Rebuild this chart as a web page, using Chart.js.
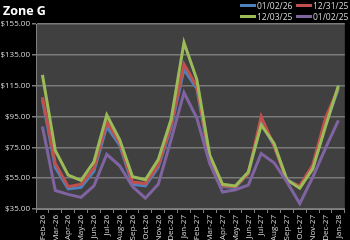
<!DOCTYPE html>
<html>
<head>
<meta charset="utf-8">
<script src="https://cdn.jsdelivr.net/npm/chart.js@4"></script>
<style>
    html, body { margin: 0; padding: 0; background: #000; }
    #wrap { position: relative; width: 350px; height: 240px; overflow: hidden; font-family: "Open Sans", "Liberation Sans", sans-serif; }
    #chart { position: absolute; left: 0; top: 0; }
    .title { position: absolute; left: 3px; top: 2px; color: #fff; font-weight: bold; font-size: 12.5px; }
    .lg { position: absolute; color: #d9d9d9; font-size: 8.5px; line-height: 10px; }
    .lg i { display: inline-block; width: 16px; height: 3px; vertical-align: middle; margin-right: 1px; position: relative; top: -1px; }
</style>
</head>
<body>
<div id="wrap">
    <canvas id="chart" width="350" height="240"></canvas>
    <div class="title">Zone G</div>
    <div class="lg" style="left:240px; top:1px;"><i style="background:#4f81bd"></i>01/02/26</div>
    <div class="lg" style="left:296px; top:1px;"><i style="background:#c0504d"></i>12/31/25</div>
    <div class="lg" style="left:240px; top:12px;"><i style="background:#9bbb59"></i>12/03/25</div>
    <div class="lg" style="left:296px; top:12px;"><i style="background:#8064a2"></i>01/02/25</div>
</div>
<script>
var months = ['Feb-26', 'Mar-26', 'Apr-26', 'May-26', 'Jun-26', 'Jul-26', 'Aug-26', 'Sep-26', 'Oct-26', 'Nov-26', 'Dec-26', 'Jan-27',
    'Feb-27', 'Mar-27', 'Apr-27', 'May-27', 'Jun-27', 'Jul-27', 'Aug-27', 'Sep-27', 'Oct-27', 'Nov-27', 'Dec-27', 'Jan-28'];
var seriesNames = ['01/02/26', '12/31/25', '12/03/25', '01/02/25'];
var jan0226 = [106, 62, 48, 49, 59.5, 88.5, 76.5, 51, 50, 62, 88, 125.5, 113, 66.5, 49.5, 49, 58, 91, 76, 54, 49.5, 61, 90, 113];
var dec3125 = [107.5, 64.5, 49.5, 51, 61.5, 91.5, 78, 52.5, 51.5, 63.5, 89.5, 129, 114.5, 68, 50, 49.5, 58, 95, 76, 53, 50, 63.5, 94, 113.5];
var dec0325 = [122, 73, 57, 53.5, 65.5, 96, 80, 56, 54, 67, 93, 143, 119, 70, 51, 50, 59, 89.5, 77.5, 54, 48.5, 61, 88.5, 115];
var jan0225 = [88.5, 47, 44.5, 42.5, 50, 70.5, 63, 49.5, 42, 51, 80, 110.5, 94, 64.5, 46, 47.5, 50.5, 71, 65, 52.5, 38.5, 55.5, 74.5, 92.5];
var yMin = 35, yMax = 155, yStep = 20;

// plot area background
var plotBg = {
    id: 'plotBg',
    beforeDraw: function (chart) {
        var a = chart.chartArea;
        var ctx = chart.ctx;
        ctx.save();
        ctx.fillStyle = '#404040';
        ctx.fillRect(a.left, a.top, a.right - a.left, a.bottom - a.top);
        ctx.restore();
    }
};

function line(label, data, color, order) {
    return {
        label: label,
        data: data,
        borderColor: color,
        backgroundColor: color,
        borderWidth: 3,
        pointRadius: 0,
        tension: 0,
        fill: false,
        order: order
    };
}

var ctx = document.getElementById('chart');
var myChart = new Chart(ctx, {
    type: 'line',
    data: {
        labels: months,
        datasets: [
            line(seriesNames[0], jan0226, '#4f81bd', 3),
            line(seriesNames[1], dec3125, '#c0504d', 2),
            line(seriesNames[2], dec0325, '#9bbb59', 1),
            line(seriesNames[3], jan0225, '#8064a2', 0)
        ]
    },
    options: {
        responsive: false,
        animation: false,
        layout: { padding: { top: 24, right: 0, left: 0, bottom: 0 } },
        plugins: {
            legend: { display: false },
            tooltip: { enabled: false }
        },
        scales: {
            x: {
                offset: true,
                grid: {
                    offset: true,
                    drawOnChartArea: false,
                    drawTicks: true,
                    tickLength: 4,
                    color: '#808080'
                },
                border: { color: '#808080', width: 1 },
                ticks: {
                    color: '#d9d9d9',
                    font: { size: 8, family: 'Open Sans' },
                    minRotation: 90,
                    maxRotation: 90,
                    autoSkip: false,
                    padding: 2
                },
                afterFit: function (scale) { scale.height = 31; }
            },
            y: {
                min: yMin,
                max: yMax,
                grid: {
                    color: '#7a7a7a',
                    lineWidth: 1.5,
                    drawTicks: true,
                    tickLength: 4
                },
                border: { color: '#808080', width: 1 },
                ticks: {
                    stepSize: yStep,
                    color: '#d9d9d9',
                    font: { size: 8, family: 'Open Sans' },
                    padding: 2,
                    callback: function (v) { return '$' + v.toFixed(2); }
                },
                afterFit: function (scale) { scale.width = 36; }
            }
        }
    },
    plugins: [plotBg]
});
</script>
</body>
</html>
